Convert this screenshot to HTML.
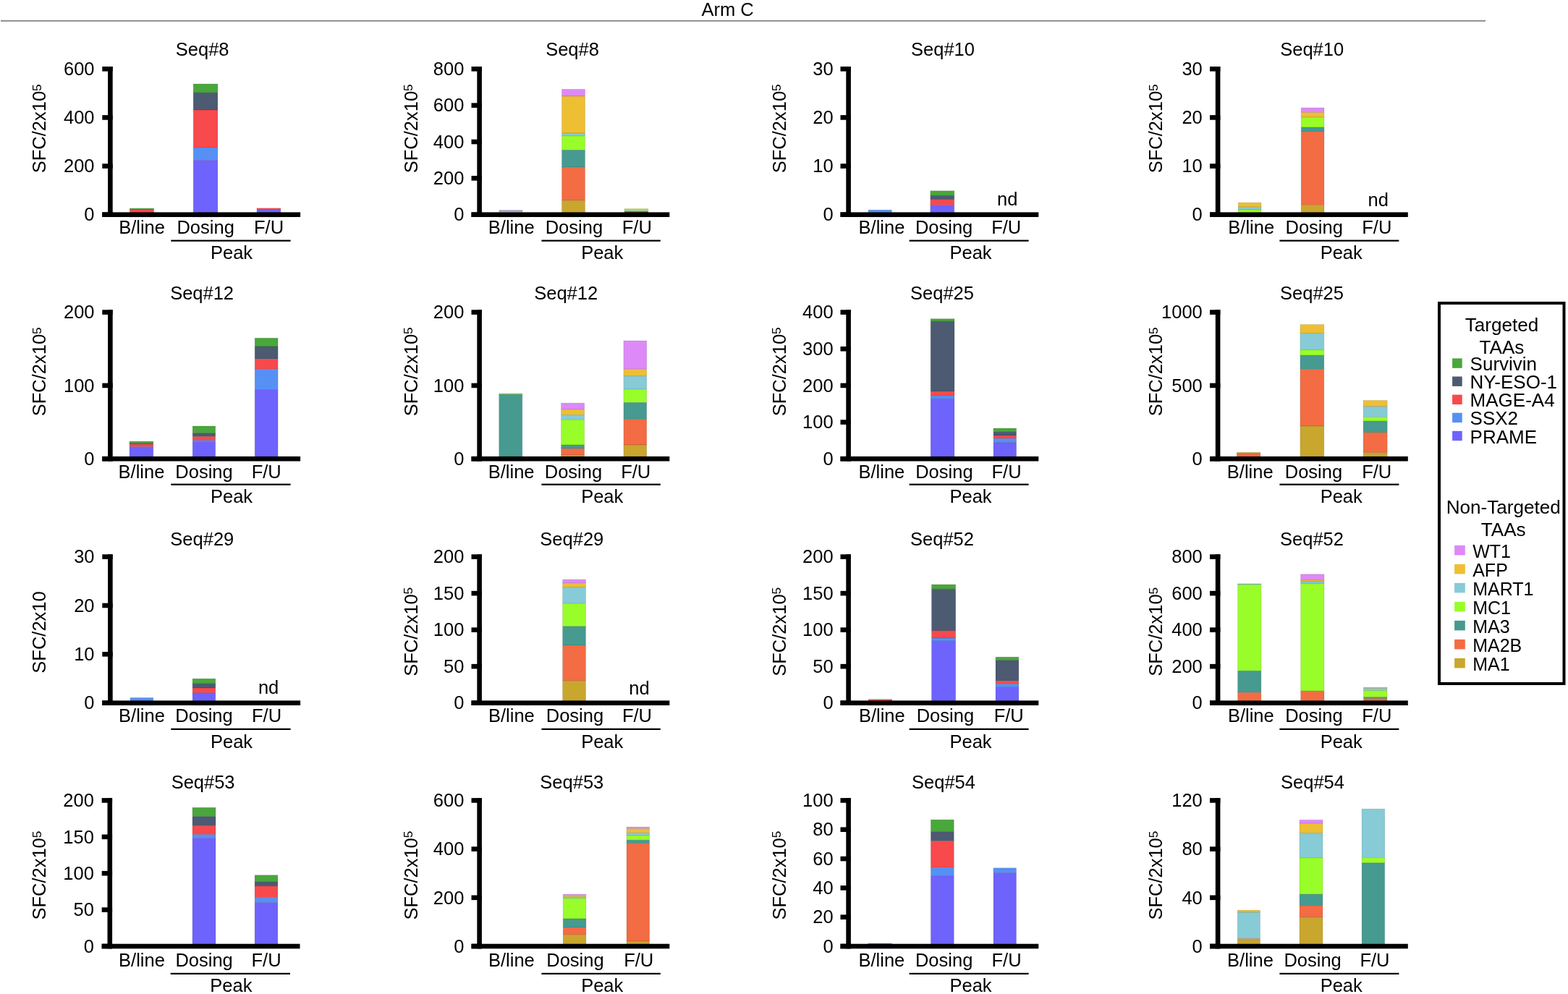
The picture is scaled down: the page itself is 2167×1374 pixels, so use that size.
<!DOCTYPE html>
<html><head><meta charset="utf-8"><title>Arm C</title><style>
html,body{margin:0;padding:0;background:#fff;}
body{width:2167px;height:1374px;overflow:hidden;}
svg{display:block;}
.b{stroke:rgba(0,0,0,0.14);stroke-width:0.8px;}
text{font-family:"Liberation Sans", Arial, Helvetica, sans-serif;fill:#000;}
</style></head><body>
<svg width="2167" height="1374" viewBox="0 0 2167 1374">
<rect x="0" y="0" width="2167" height="1374" fill="#fff"/>
<text x="1005.6" y="21.6" font-size="25.5" text-anchor="middle">Arm C</text>
<rect x="1" y="27.8" width="2052" height="2" fill="#8c8c8c"/>
<g>
<rect x="179.3" y="288" width="33.3" height="2" fill="#49a73b" class="b"/>
<rect x="179.3" y="290" width="33.3" height="10" fill="#f8494c" class="b"/>
<rect x="267.2" y="116" width="33.7" height="12.1" fill="#49a73b" class="b"/>
<rect x="267.2" y="128.1" width="33.7" height="23.9" fill="#4c5a72" class="b"/>
<rect x="267.2" y="152" width="33.7" height="52.1" fill="#f8494c" class="b"/>
<rect x="267.2" y="204.1" width="33.7" height="17.4" fill="#5790f4" class="b"/>
<rect x="267.2" y="221.5" width="33.7" height="78.5" fill="#6e63fc" class="b"/>
<rect x="355" y="287.8" width="32.9" height="2.3" fill="#f8494c" class="b"/>
<rect x="355" y="290.1" width="32.9" height="9.9" fill="#6e63fc" class="b"/>
<rect x="149.1" y="92" width="6.6" height="208" fill="#000"/>
<rect x="141.3" y="293.4" width="273.8" height="6.6" fill="#000"/>
<rect x="141.3" y="293.4" width="14.4" height="6.6" fill="#000"/>
<text x="130.5" y="305.4" font-size="25.5" text-anchor="end">0</text>
<rect x="141.3" y="226.27" width="14.4" height="6.6" fill="#000"/>
<text x="130.5" y="238.27" font-size="25.5" text-anchor="end">200</text>
<rect x="141.3" y="159.13" width="14.4" height="6.6" fill="#000"/>
<text x="130.5" y="171.13" font-size="25.5" text-anchor="end">400</text>
<rect x="141.3" y="92" width="14.4" height="6.6" fill="#000"/>
<text x="130.5" y="104" font-size="25.5" text-anchor="end">600</text>
<text x="279.7" y="77.2" font-size="25.5" text-anchor="middle">Seq#8</text>
<text transform="translate(63 239.3) rotate(-90)" font-size="25.5">SFC/2x10<tspan font-size="17.34" dy="-6.4">5</tspan></text>
<text x="196.05" y="323.4" font-size="25.5" text-anchor="middle">B/line</text>
<text x="284.15" y="323.4" font-size="25.5" text-anchor="middle">Dosing</text>
<text x="371.55" y="323.4" font-size="25.5" text-anchor="middle">F/U</text>
<rect x="236.3" y="331.6" width="165.3" height="2.2" fill="#000"/>
<text x="320" y="358" font-size="25.5" text-anchor="middle">Peak</text>
</g>
<g>
<rect x="689.8" y="290.5" width="32.1" height="1.5" fill="#b3a9d6" class="b"/>
<rect x="689.8" y="292" width="32.1" height="8" fill="#b5c7bd" class="b"/>
<rect x="776.5" y="123.4" width="32" height="9.6" fill="#de89f8" class="b"/>
<rect x="776.5" y="133" width="32" height="51" fill="#eebf32" class="b"/>
<rect x="776.5" y="184" width="32" height="3.9" fill="#86cbd6" class="b"/>
<rect x="776.5" y="187.9" width="32" height="19.6" fill="#99fd2a" class="b"/>
<rect x="776.5" y="207.5" width="32" height="23.6" fill="#469a90" class="b"/>
<rect x="776.5" y="231.1" width="32" height="46" fill="#f36c43" class="b"/>
<rect x="776.5" y="277.1" width="32" height="22.9" fill="#c9a62e" class="b"/>
<rect x="863" y="288.3" width="32.8" height="1.4" fill="#f3e79a" class="b"/>
<rect x="863" y="289.7" width="32.8" height="2.6" fill="#a3d68f" class="b"/>
<rect x="863" y="292.3" width="32.8" height="7.7" fill="#7a5a35" class="b"/>
<rect x="659.3" y="92" width="6.6" height="208" fill="#000"/>
<rect x="651.5" y="293.4" width="273.8" height="6.6" fill="#000"/>
<rect x="651.5" y="293.4" width="14.4" height="6.6" fill="#000"/>
<text x="641.4" y="305.4" font-size="25.5" text-anchor="end">0</text>
<rect x="651.5" y="243.05" width="14.4" height="6.6" fill="#000"/>
<text x="641.4" y="255.05" font-size="25.5" text-anchor="end">200</text>
<rect x="651.5" y="192.7" width="14.4" height="6.6" fill="#000"/>
<text x="641.4" y="204.7" font-size="25.5" text-anchor="end">400</text>
<rect x="651.5" y="142.35" width="14.4" height="6.6" fill="#000"/>
<text x="641.4" y="154.35" font-size="25.5" text-anchor="end">600</text>
<rect x="651.5" y="92" width="14.4" height="6.6" fill="#000"/>
<text x="641.4" y="104" font-size="25.5" text-anchor="end">800</text>
<text x="791" y="77.2" font-size="25.5" text-anchor="middle">Seq#8</text>
<text transform="translate(576.5 239.3) rotate(-90)" font-size="25.5">SFC/2x10<tspan font-size="17.34" dy="-6.4">5</tspan></text>
<text x="706.75" y="323.4" font-size="25.5" text-anchor="middle">B/line</text>
<text x="793.4" y="323.4" font-size="25.5" text-anchor="middle">Dosing</text>
<text x="880.3" y="323.4" font-size="25.5" text-anchor="middle">F/U</text>
<rect x="748.4" y="331.6" width="164.4" height="2.2" fill="#000"/>
<text x="832.2" y="358" font-size="25.5" text-anchor="middle">Peak</text>
</g>
<g>
<rect x="1200" y="290.2" width="32.4" height="9.8" fill="#5790f4" class="b"/>
<rect x="1285.8" y="263.8" width="33" height="6.4" fill="#49a73b" class="b"/>
<rect x="1285.8" y="270.2" width="33" height="5.6" fill="#4c5a72" class="b"/>
<rect x="1285.8" y="275.8" width="33" height="7.6" fill="#f8494c" class="b"/>
<rect x="1285.8" y="283.4" width="33" height="16.6" fill="#6e63fc" class="b"/>
<rect x="1169.3" y="92" width="6.6" height="208" fill="#000"/>
<rect x="1161.5" y="293.4" width="273.8" height="6.6" fill="#000"/>
<rect x="1161.5" y="293.4" width="14.4" height="6.6" fill="#000"/>
<text x="1151.6" y="305.4" font-size="25.5" text-anchor="end">0</text>
<rect x="1161.5" y="226.27" width="14.4" height="6.6" fill="#000"/>
<text x="1151.6" y="238.27" font-size="25.5" text-anchor="end">10</text>
<rect x="1161.5" y="159.13" width="14.4" height="6.6" fill="#000"/>
<text x="1151.6" y="171.13" font-size="25.5" text-anchor="end">20</text>
<rect x="1161.5" y="92" width="14.4" height="6.6" fill="#000"/>
<text x="1151.6" y="104" font-size="25.5" text-anchor="end">30</text>
<text x="1303" y="77.2" font-size="25.5" text-anchor="middle">Seq#10</text>
<text transform="translate(1085.8 239.3) rotate(-90)" font-size="25.5">SFC/2x10<tspan font-size="17.34" dy="-6.4">5</tspan></text>
<text x="1218.5" y="323.4" font-size="25.5" text-anchor="middle">B/line</text>
<text x="1304.6" y="323.4" font-size="25.5" text-anchor="middle">Dosing</text>
<text x="1390.7" y="323.4" font-size="25.5" text-anchor="middle">F/U</text>
<rect x="1256.6" y="331.6" width="165" height="2.2" fill="#000"/>
<text x="1341.5" y="358" font-size="25.5" text-anchor="middle">Peak</text>
<text x="1392.3" y="284.2" font-size="25.5" text-anchor="middle">nd</text>
</g>
<g>
<rect x="1711.2" y="280.1" width="31.8" height="6" fill="#eebf32" class="b"/>
<rect x="1711.2" y="286.1" width="31.8" height="3.9" fill="#86cbd6" class="b"/>
<rect x="1711.2" y="290" width="31.8" height="10" fill="#99fd2a" class="b"/>
<rect x="1798.2" y="149" width="31.8" height="6.4" fill="#de89f8" class="b"/>
<rect x="1798.2" y="155.4" width="31.8" height="6.6" fill="#eebf32" class="b"/>
<rect x="1798.2" y="162" width="31.8" height="14" fill="#99fd2a" class="b"/>
<rect x="1798.2" y="176" width="31.8" height="6.2" fill="#469a90" class="b"/>
<rect x="1798.2" y="182.2" width="31.8" height="101.2" fill="#f36c43" class="b"/>
<rect x="1798.2" y="283.4" width="31.8" height="16.6" fill="#c9a62e" class="b"/>
<rect x="1679.8" y="92" width="6.6" height="208" fill="#000"/>
<rect x="1672" y="293.4" width="273.8" height="6.6" fill="#000"/>
<rect x="1672" y="293.4" width="14.4" height="6.6" fill="#000"/>
<text x="1661.8" y="305.4" font-size="25.5" text-anchor="end">0</text>
<rect x="1672" y="226.27" width="14.4" height="6.6" fill="#000"/>
<text x="1661.8" y="238.27" font-size="25.5" text-anchor="end">10</text>
<rect x="1672" y="159.13" width="14.4" height="6.6" fill="#000"/>
<text x="1661.8" y="171.13" font-size="25.5" text-anchor="end">20</text>
<rect x="1672" y="92" width="14.4" height="6.6" fill="#000"/>
<text x="1661.8" y="104" font-size="25.5" text-anchor="end">30</text>
<text x="1813.2" y="77.2" font-size="25.5" text-anchor="middle">Seq#10</text>
<text transform="translate(1606 239.3) rotate(-90)" font-size="25.5">SFC/2x10<tspan font-size="17.34" dy="-6.4">5</tspan></text>
<text x="1729.2" y="323.4" font-size="25.5" text-anchor="middle">B/line</text>
<text x="1816.2" y="323.4" font-size="25.5" text-anchor="middle">Dosing</text>
<text x="1902.8" y="323.4" font-size="25.5" text-anchor="middle">F/U</text>
<rect x="1768.4" y="331.6" width="165" height="2.2" fill="#000"/>
<text x="1853.7" y="358" font-size="25.5" text-anchor="middle">Peak</text>
<text x="1904.7" y="284.6" font-size="25.5" text-anchor="middle">nd</text>
</g>
<g>
<rect x="179" y="610.1" width="32.8" height="2.4" fill="#49a73b" class="b"/>
<rect x="179" y="612.5" width="32.8" height="1.4" fill="#4c5a72" class="b"/>
<rect x="179" y="613.9" width="32.8" height="3.7" fill="#f8494c" class="b"/>
<rect x="179" y="617.6" width="32.8" height="19.4" fill="#6e63fc" class="b"/>
<rect x="266.2" y="589" width="31.5" height="9.7" fill="#49a73b" class="b"/>
<rect x="266.2" y="598.7" width="31.5" height="4.8" fill="#4c5a72" class="b"/>
<rect x="266.2" y="603.5" width="31.5" height="5.3" fill="#f8494c" class="b"/>
<rect x="266.2" y="608.8" width="31.5" height="1.6" fill="#5790f4" class="b"/>
<rect x="266.2" y="610.4" width="31.5" height="26.6" fill="#6e63fc" class="b"/>
<rect x="352.2" y="467.3" width="31.9" height="11.7" fill="#49a73b" class="b"/>
<rect x="352.2" y="479" width="31.9" height="17.3" fill="#4c5a72" class="b"/>
<rect x="352.2" y="496.3" width="31.9" height="13.9" fill="#f8494c" class="b"/>
<rect x="352.2" y="510.2" width="31.9" height="28.6" fill="#5790f4" class="b"/>
<rect x="352.2" y="538.8" width="31.9" height="98.2" fill="#6e63fc" class="b"/>
<rect x="149.1" y="428.3" width="6.6" height="209.2" fill="#000"/>
<rect x="141.3" y="630.9" width="273.8" height="6.6" fill="#000"/>
<rect x="141.3" y="630.9" width="14.4" height="6.6" fill="#000"/>
<text x="130.5" y="642.9" font-size="25.5" text-anchor="end">0</text>
<rect x="141.3" y="529.6" width="14.4" height="6.6" fill="#000"/>
<text x="130.5" y="541.6" font-size="25.5" text-anchor="end">100</text>
<rect x="141.3" y="428.3" width="14.4" height="6.6" fill="#000"/>
<text x="130.5" y="440.3" font-size="25.5" text-anchor="end">200</text>
<text x="279.1" y="414.2" font-size="25.5" text-anchor="middle">Seq#12</text>
<text transform="translate(63 575.3) rotate(-90)" font-size="25.5">SFC/2x10<tspan font-size="17.34" dy="-6.4">5</tspan></text>
<text x="195.5" y="660.8" font-size="25.5" text-anchor="middle">B/line</text>
<text x="282.05" y="660.8" font-size="25.5" text-anchor="middle">Dosing</text>
<text x="368.25" y="660.8" font-size="25.5" text-anchor="middle">F/U</text>
<rect x="236.3" y="668.6" width="165.3" height="2.2" fill="#000"/>
<text x="320" y="695" font-size="25.5" text-anchor="middle">Peak</text>
</g>
<g>
<rect x="689.7" y="543.8" width="32.1" height="1.3" fill="#99fd2a" class="b"/>
<rect x="689.7" y="545.1" width="32.1" height="91.9" fill="#469a90" class="b"/>
<rect x="775.5" y="557.2" width="32.1" height="8.7" fill="#de89f8" class="b"/>
<rect x="775.5" y="565.9" width="32.1" height="7.6" fill="#eebf32" class="b"/>
<rect x="775.5" y="573.5" width="32.1" height="6.8" fill="#86cbd6" class="b"/>
<rect x="775.5" y="580.3" width="32.1" height="34.7" fill="#99fd2a" class="b"/>
<rect x="775.5" y="615" width="32.1" height="5.1" fill="#469a90" class="b"/>
<rect x="775.5" y="620.1" width="32.1" height="9" fill="#f36c43" class="b"/>
<rect x="775.5" y="629.1" width="32.1" height="7.9" fill="#c9a62e" class="b"/>
<rect x="861.9" y="471" width="31.8" height="39.2" fill="#de89f8" class="b"/>
<rect x="861.9" y="510.2" width="31.8" height="9.6" fill="#eebf32" class="b"/>
<rect x="861.9" y="519.8" width="31.8" height="18.3" fill="#86cbd6" class="b"/>
<rect x="861.9" y="538.1" width="31.8" height="18.4" fill="#99fd2a" class="b"/>
<rect x="861.9" y="556.5" width="31.8" height="23.1" fill="#469a90" class="b"/>
<rect x="861.9" y="579.6" width="31.8" height="35.4" fill="#f36c43" class="b"/>
<rect x="861.9" y="615" width="31.8" height="22" fill="#c9a62e" class="b"/>
<rect x="659.3" y="428.3" width="6.6" height="209.2" fill="#000"/>
<rect x="651.5" y="630.9" width="273.8" height="6.6" fill="#000"/>
<rect x="651.5" y="630.9" width="14.4" height="6.6" fill="#000"/>
<text x="641.4" y="642.9" font-size="25.5" text-anchor="end">0</text>
<rect x="651.5" y="529.6" width="14.4" height="6.6" fill="#000"/>
<text x="641.4" y="541.6" font-size="25.5" text-anchor="end">100</text>
<rect x="651.5" y="428.3" width="14.4" height="6.6" fill="#000"/>
<text x="641.4" y="440.3" font-size="25.5" text-anchor="end">200</text>
<text x="782.2" y="414.2" font-size="25.5" text-anchor="middle">Seq#12</text>
<text transform="translate(576.5 575.3) rotate(-90)" font-size="25.5">SFC/2x10<tspan font-size="17.34" dy="-6.4">5</tspan></text>
<text x="706.65" y="660.8" font-size="25.5" text-anchor="middle">B/line</text>
<text x="792.45" y="660.8" font-size="25.5" text-anchor="middle">Dosing</text>
<text x="878.7" y="660.8" font-size="25.5" text-anchor="middle">F/U</text>
<rect x="748.4" y="668.6" width="164.4" height="2.2" fill="#000"/>
<text x="832.2" y="695" font-size="25.5" text-anchor="middle">Peak</text>
</g>
<g>
<rect x="1286.2" y="440.7" width="32.8" height="3.4" fill="#49a73b" class="b"/>
<rect x="1286.2" y="444.1" width="32.8" height="97" fill="#4c5a72" class="b"/>
<rect x="1286.2" y="541.1" width="32.8" height="5.8" fill="#f8494c" class="b"/>
<rect x="1286.2" y="546.9" width="32.8" height="4.3" fill="#5790f4" class="b"/>
<rect x="1286.2" y="551.2" width="32.8" height="85.8" fill="#6e63fc" class="b"/>
<rect x="1373" y="592" width="31.6" height="5.1" fill="#49a73b" class="b"/>
<rect x="1373" y="597.1" width="31.6" height="4.9" fill="#4c5a72" class="b"/>
<rect x="1373" y="602" width="31.6" height="4.1" fill="#f8494c" class="b"/>
<rect x="1373" y="606.1" width="31.6" height="5.8" fill="#5790f4" class="b"/>
<rect x="1373" y="611.9" width="31.6" height="25.1" fill="#6e63fc" class="b"/>
<rect x="1169.3" y="428.3" width="6.6" height="209.2" fill="#000"/>
<rect x="1161.5" y="630.9" width="273.8" height="6.6" fill="#000"/>
<rect x="1161.5" y="630.9" width="14.4" height="6.6" fill="#000"/>
<text x="1151.6" y="642.9" font-size="25.5" text-anchor="end">0</text>
<rect x="1161.5" y="580.25" width="14.4" height="6.6" fill="#000"/>
<text x="1151.6" y="592.25" font-size="25.5" text-anchor="end">100</text>
<rect x="1161.5" y="529.6" width="14.4" height="6.6" fill="#000"/>
<text x="1151.6" y="541.6" font-size="25.5" text-anchor="end">200</text>
<rect x="1161.5" y="478.95" width="14.4" height="6.6" fill="#000"/>
<text x="1151.6" y="490.95" font-size="25.5" text-anchor="end">300</text>
<rect x="1161.5" y="428.3" width="14.4" height="6.6" fill="#000"/>
<text x="1151.6" y="440.3" font-size="25.5" text-anchor="end">400</text>
<text x="1302" y="414.2" font-size="25.5" text-anchor="middle">Seq#25</text>
<text transform="translate(1085.8 575.3) rotate(-90)" font-size="25.5">SFC/2x10<tspan font-size="17.34" dy="-6.4">5</tspan></text>
<text x="1218.4" y="660.8" font-size="25.5" text-anchor="middle">B/line</text>
<text x="1304.9" y="660.8" font-size="25.5" text-anchor="middle">Dosing</text>
<text x="1391.1" y="660.8" font-size="25.5" text-anchor="middle">F/U</text>
<rect x="1256.6" y="668.6" width="165" height="2.2" fill="#000"/>
<text x="1341.5" y="695" font-size="25.5" text-anchor="middle">Peak</text>
</g>
<g>
<rect x="1709.3" y="625.4" width="32.6" height="1.4" fill="#c9a62e" class="b"/>
<rect x="1709.3" y="626.8" width="32.6" height="10.2" fill="#f36c43" class="b"/>
<rect x="1796.9" y="448.6" width="32.9" height="12" fill="#eebf32" class="b"/>
<rect x="1796.9" y="460.6" width="32.9" height="23.2" fill="#86cbd6" class="b"/>
<rect x="1796.9" y="483.8" width="32.9" height="7.3" fill="#99fd2a" class="b"/>
<rect x="1796.9" y="491.1" width="32.9" height="19.2" fill="#469a90" class="b"/>
<rect x="1796.9" y="510.3" width="32.9" height="78.7" fill="#f36c43" class="b"/>
<rect x="1796.9" y="589" width="32.9" height="48" fill="#c9a62e" class="b"/>
<rect x="1884.1" y="553.5" width="33.1" height="8.3" fill="#eebf32" class="b"/>
<rect x="1884.1" y="561.8" width="33.1" height="14.6" fill="#86cbd6" class="b"/>
<rect x="1884.1" y="576.4" width="33.1" height="5.7" fill="#99fd2a" class="b"/>
<rect x="1884.1" y="582.1" width="33.1" height="15.7" fill="#469a90" class="b"/>
<rect x="1884.1" y="597.8" width="33.1" height="27.9" fill="#f36c43" class="b"/>
<rect x="1884.1" y="625.7" width="33.1" height="11.3" fill="#c9a62e" class="b"/>
<rect x="1679.8" y="428.3" width="6.6" height="209.2" fill="#000"/>
<rect x="1672" y="630.9" width="273.8" height="6.6" fill="#000"/>
<rect x="1672" y="630.9" width="14.4" height="6.6" fill="#000"/>
<text x="1661.8" y="642.9" font-size="25.5" text-anchor="end">0</text>
<rect x="1672" y="529.6" width="14.4" height="6.6" fill="#000"/>
<text x="1661.8" y="541.6" font-size="25.5" text-anchor="end">500</text>
<rect x="1672" y="428.3" width="14.4" height="6.6" fill="#000"/>
<text x="1661.8" y="440.3" font-size="25.5" text-anchor="end">1000</text>
<text x="1813" y="414.2" font-size="25.5" text-anchor="middle">Seq#25</text>
<text transform="translate(1606 575.3) rotate(-90)" font-size="25.5">SFC/2x10<tspan font-size="17.34" dy="-6.4">5</tspan></text>
<text x="1727.7" y="660.8" font-size="25.5" text-anchor="middle">B/line</text>
<text x="1815.45" y="660.8" font-size="25.5" text-anchor="middle">Dosing</text>
<text x="1902.75" y="660.8" font-size="25.5" text-anchor="middle">F/U</text>
<rect x="1768.4" y="668.6" width="165" height="2.2" fill="#000"/>
<text x="1853.7" y="695" font-size="25.5" text-anchor="middle">Peak</text>
</g>
<g>
<rect x="180" y="964.5" width="31.8" height="10.5" fill="#5790f4" class="b"/>
<rect x="266.1" y="938.2" width="31.7" height="6.4" fill="#49a73b" class="b"/>
<rect x="266.1" y="944.6" width="31.7" height="6.4" fill="#4c5a72" class="b"/>
<rect x="266.1" y="951" width="31.7" height="6.8" fill="#f8494c" class="b"/>
<rect x="266.1" y="957.8" width="31.7" height="17.2" fill="#6e63fc" class="b"/>
<rect x="149.1" y="766.3" width="6.6" height="208.7" fill="#000"/>
<rect x="141.3" y="968.4" width="273.8" height="6.6" fill="#000"/>
<rect x="141.3" y="968.4" width="14.4" height="6.6" fill="#000"/>
<text x="130.5" y="980.4" font-size="25.5" text-anchor="end">0</text>
<rect x="141.3" y="901.03" width="14.4" height="6.6" fill="#000"/>
<text x="130.5" y="913.03" font-size="25.5" text-anchor="end">10</text>
<rect x="141.3" y="833.67" width="14.4" height="6.6" fill="#000"/>
<text x="130.5" y="845.67" font-size="25.5" text-anchor="end">20</text>
<rect x="141.3" y="766.3" width="14.4" height="6.6" fill="#000"/>
<text x="130.5" y="778.3" font-size="25.5" text-anchor="end">30</text>
<text x="279.3" y="753.7" font-size="25.5" text-anchor="middle">Seq#29</text>
<text transform="translate(63 930.7) rotate(-90)" font-size="25.5">SFC/2x10</text>
<text x="196" y="998.2" font-size="25.5" text-anchor="middle">B/line</text>
<text x="282.05" y="998.2" font-size="25.5" text-anchor="middle">Dosing</text>
<text x="368.6" y="998.2" font-size="25.5" text-anchor="middle">F/U</text>
<rect x="236.3" y="1006.8" width="165.3" height="2.2" fill="#000"/>
<text x="320" y="1033.8" font-size="25.5" text-anchor="middle">Peak</text>
<text x="371.1" y="959.4" font-size="25.5" text-anchor="middle">nd</text>
</g>
<g>
<rect x="777.6" y="801.1" width="31.9" height="4.8" fill="#de89f8" class="b"/>
<rect x="777.6" y="805.9" width="31.9" height="5.8" fill="#eebf32" class="b"/>
<rect x="777.6" y="811.7" width="31.9" height="22.5" fill="#86cbd6" class="b"/>
<rect x="777.6" y="834.2" width="31.9" height="31.7" fill="#99fd2a" class="b"/>
<rect x="777.6" y="865.9" width="31.9" height="26.2" fill="#469a90" class="b"/>
<rect x="777.6" y="892.1" width="31.9" height="48.8" fill="#f36c43" class="b"/>
<rect x="777.6" y="940.9" width="31.9" height="34.1" fill="#c9a62e" class="b"/>
<rect x="659.3" y="766.3" width="6.6" height="208.7" fill="#000"/>
<rect x="651.5" y="968.4" width="273.8" height="6.6" fill="#000"/>
<rect x="651.5" y="968.4" width="14.4" height="6.6" fill="#000"/>
<text x="641.4" y="980.4" font-size="25.5" text-anchor="end">0</text>
<rect x="651.5" y="917.88" width="14.4" height="6.6" fill="#000"/>
<text x="641.4" y="929.88" font-size="25.5" text-anchor="end">50</text>
<rect x="651.5" y="867.35" width="14.4" height="6.6" fill="#000"/>
<text x="641.4" y="879.35" font-size="25.5" text-anchor="end">100</text>
<rect x="651.5" y="816.83" width="14.4" height="6.6" fill="#000"/>
<text x="641.4" y="828.83" font-size="25.5" text-anchor="end">150</text>
<rect x="651.5" y="766.3" width="14.4" height="6.6" fill="#000"/>
<text x="641.4" y="778.3" font-size="25.5" text-anchor="end">200</text>
<text x="790.3" y="753.7" font-size="25.5" text-anchor="middle">Seq#29</text>
<text transform="translate(576.5 934.8) rotate(-90)" font-size="25.5">SFC/2x10<tspan font-size="17.34" dy="-6.4">5</tspan></text>
<text x="706.9" y="998.2" font-size="25.5" text-anchor="middle">B/line</text>
<text x="794.45" y="998.2" font-size="25.5" text-anchor="middle">Dosing</text>
<text x="880.5" y="998.2" font-size="25.5" text-anchor="middle">F/U</text>
<rect x="748.4" y="1006.8" width="164.4" height="2.2" fill="#000"/>
<text x="832.2" y="1033.8" font-size="25.5" text-anchor="middle">Peak</text>
<text x="883.5" y="959.8" font-size="25.5" text-anchor="middle">nd</text>
</g>
<g>
<rect x="1200.1" y="966.7" width="32.8" height="8.3" fill="#f8494c" class="b"/>
<rect x="1287.5" y="808" width="33.2" height="6.2" fill="#49a73b" class="b"/>
<rect x="1287.5" y="814.2" width="33.2" height="57.7" fill="#4c5a72" class="b"/>
<rect x="1287.5" y="871.9" width="33.2" height="10.1" fill="#f8494c" class="b"/>
<rect x="1287.5" y="882" width="33.2" height="4.1" fill="#5790f4" class="b"/>
<rect x="1287.5" y="886.1" width="33.2" height="88.9" fill="#6e63fc" class="b"/>
<rect x="1376" y="908.2" width="31.9" height="4.6" fill="#49a73b" class="b"/>
<rect x="1376" y="912.8" width="31.9" height="28.6" fill="#4c5a72" class="b"/>
<rect x="1376" y="941.4" width="31.9" height="4.2" fill="#f8494c" class="b"/>
<rect x="1376" y="945.6" width="31.9" height="4.5" fill="#5790f4" class="b"/>
<rect x="1376" y="950.1" width="31.9" height="24.9" fill="#6e63fc" class="b"/>
<rect x="1169.3" y="766.3" width="6.6" height="208.7" fill="#000"/>
<rect x="1161.5" y="968.4" width="273.8" height="6.6" fill="#000"/>
<rect x="1161.5" y="968.4" width="14.4" height="6.6" fill="#000"/>
<text x="1151.6" y="980.4" font-size="25.5" text-anchor="end">0</text>
<rect x="1161.5" y="917.88" width="14.4" height="6.6" fill="#000"/>
<text x="1151.6" y="929.88" font-size="25.5" text-anchor="end">50</text>
<rect x="1161.5" y="867.35" width="14.4" height="6.6" fill="#000"/>
<text x="1151.6" y="879.35" font-size="25.5" text-anchor="end">100</text>
<rect x="1161.5" y="816.83" width="14.4" height="6.6" fill="#000"/>
<text x="1151.6" y="828.83" font-size="25.5" text-anchor="end">150</text>
<rect x="1161.5" y="766.3" width="14.4" height="6.6" fill="#000"/>
<text x="1151.6" y="778.3" font-size="25.5" text-anchor="end">200</text>
<text x="1302" y="753.7" font-size="25.5" text-anchor="middle">Seq#52</text>
<text transform="translate(1085.8 934.8) rotate(-90)" font-size="25.5">SFC/2x10<tspan font-size="17.34" dy="-6.4">5</tspan></text>
<text x="1218.8" y="998.2" font-size="25.5" text-anchor="middle">B/line</text>
<text x="1306.4" y="998.2" font-size="25.5" text-anchor="middle">Dosing</text>
<text x="1394.25" y="998.2" font-size="25.5" text-anchor="middle">F/U</text>
<rect x="1256.6" y="1006.8" width="165" height="2.2" fill="#000"/>
<text x="1341.5" y="1033.8" font-size="25.5" text-anchor="middle">Peak</text>
</g>
<g>
<rect x="1710.6" y="806.9" width="32.3" height="1.1" fill="#86cbd6" class="b"/>
<rect x="1710.6" y="808" width="32.3" height="119.3" fill="#99fd2a" class="b"/>
<rect x="1710.6" y="927.3" width="32.3" height="30" fill="#469a90" class="b"/>
<rect x="1710.6" y="957.3" width="32.3" height="17.7" fill="#f36c43" class="b"/>
<rect x="1797.6" y="793.8" width="32.4" height="8" fill="#de89f8" class="b"/>
<rect x="1797.6" y="801.8" width="32.4" height="2.2" fill="#eebf32" class="b"/>
<rect x="1797.6" y="804" width="32.4" height="2.9" fill="#86cbd6" class="b"/>
<rect x="1797.6" y="806.9" width="32.4" height="148.2" fill="#99fd2a" class="b"/>
<rect x="1797.6" y="955.1" width="32.4" height="19.9" fill="#f36c43" class="b"/>
<rect x="1884.5" y="950" width="32.5" height="1.5" fill="#eebf32" class="b"/>
<rect x="1884.5" y="951.5" width="32.5" height="3.2" fill="#86cbd6" class="b"/>
<rect x="1884.5" y="954.7" width="32.5" height="9" fill="#99fd2a" class="b"/>
<rect x="1884.5" y="963.7" width="32.5" height="1.9" fill="#469a90" class="b"/>
<rect x="1884.5" y="965.6" width="32.5" height="9.4" fill="#f36c43" class="b"/>
<rect x="1679.8" y="766.3" width="6.6" height="208.7" fill="#000"/>
<rect x="1672" y="968.4" width="273.8" height="6.6" fill="#000"/>
<rect x="1672" y="968.4" width="14.4" height="6.6" fill="#000"/>
<text x="1661.8" y="980.4" font-size="25.5" text-anchor="end">0</text>
<rect x="1672" y="917.88" width="14.4" height="6.6" fill="#000"/>
<text x="1661.8" y="929.88" font-size="25.5" text-anchor="end">200</text>
<rect x="1672" y="867.35" width="14.4" height="6.6" fill="#000"/>
<text x="1661.8" y="879.35" font-size="25.5" text-anchor="end">400</text>
<rect x="1672" y="816.83" width="14.4" height="6.6" fill="#000"/>
<text x="1661.8" y="828.83" font-size="25.5" text-anchor="end">600</text>
<rect x="1672" y="766.3" width="14.4" height="6.6" fill="#000"/>
<text x="1661.8" y="778.3" font-size="25.5" text-anchor="end">800</text>
<text x="1813" y="753.7" font-size="25.5" text-anchor="middle">Seq#52</text>
<text transform="translate(1606 934.8) rotate(-90)" font-size="25.5">SFC/2x10<tspan font-size="17.34" dy="-6.4">5</tspan></text>
<text x="1728.85" y="998.2" font-size="25.5" text-anchor="middle">B/line</text>
<text x="1815.9" y="998.2" font-size="25.5" text-anchor="middle">Dosing</text>
<text x="1902.85" y="998.2" font-size="25.5" text-anchor="middle">F/U</text>
<rect x="1768.4" y="1006.8" width="165" height="2.2" fill="#000"/>
<text x="1853.7" y="1033.8" font-size="25.5" text-anchor="middle">Peak</text>
</g>
<g>
<rect x="266" y="1116.3" width="32" height="12.4" fill="#49a73b" class="b"/>
<rect x="266" y="1128.7" width="32" height="12.9" fill="#4c5a72" class="b"/>
<rect x="266" y="1141.6" width="32" height="12" fill="#f8494c" class="b"/>
<rect x="266" y="1153.6" width="32" height="4.9" fill="#5790f4" class="b"/>
<rect x="266" y="1158.5" width="32" height="152.5" fill="#6e63fc" class="b"/>
<rect x="352.1" y="1209.7" width="31.8" height="8.9" fill="#49a73b" class="b"/>
<rect x="352.1" y="1218.6" width="31.8" height="6.3" fill="#4c5a72" class="b"/>
<rect x="352.1" y="1224.9" width="31.8" height="15.7" fill="#f8494c" class="b"/>
<rect x="352.1" y="1240.6" width="31.8" height="7" fill="#5790f4" class="b"/>
<rect x="352.1" y="1247.6" width="31.8" height="63.4" fill="#6e63fc" class="b"/>
<rect x="148.5" y="1103.1" width="6.6" height="208.2" fill="#000"/>
<rect x="140.7" y="1304.7" width="273.8" height="6.6" fill="#000"/>
<rect x="140.7" y="1304.7" width="14.4" height="6.6" fill="#000"/>
<text x="129.9" y="1316.7" font-size="25.5" text-anchor="end">0</text>
<rect x="140.7" y="1254.3" width="14.4" height="6.6" fill="#000"/>
<text x="129.9" y="1266.3" font-size="25.5" text-anchor="end">50</text>
<rect x="140.7" y="1203.9" width="14.4" height="6.6" fill="#000"/>
<text x="129.9" y="1215.9" font-size="25.5" text-anchor="end">100</text>
<rect x="140.7" y="1153.5" width="14.4" height="6.6" fill="#000"/>
<text x="129.9" y="1165.5" font-size="25.5" text-anchor="end">150</text>
<rect x="140.7" y="1103.1" width="14.4" height="6.6" fill="#000"/>
<text x="129.9" y="1115.1" font-size="25.5" text-anchor="end">200</text>
<text x="280.6" y="1090.1" font-size="25.5" text-anchor="middle">Seq#53</text>
<text transform="translate(63 1271.6) rotate(-90)" font-size="25.5">SFC/2x10<tspan font-size="17.34" dy="-6.4">5</tspan></text>
<text x="196" y="1335.8" font-size="25.5" text-anchor="middle">B/line</text>
<text x="282.1" y="1335.8" font-size="25.5" text-anchor="middle">Dosing</text>
<text x="368.1" y="1335.8" font-size="25.5" text-anchor="middle">F/U</text>
<rect x="235.7" y="1344.8" width="165.3" height="2.2" fill="#000"/>
<text x="319.4" y="1371.2" font-size="25.5" text-anchor="middle">Peak</text>
</g>
<g>
<rect x="778.2" y="1236.1" width="31.7" height="1.3" fill="#de89f8" class="b"/>
<rect x="778.2" y="1237.4" width="31.7" height="2.3" fill="#eebf32" class="b"/>
<rect x="778.2" y="1239.7" width="31.7" height="2.1" fill="#86cbd6" class="b"/>
<rect x="778.2" y="1241.8" width="31.7" height="28.2" fill="#99fd2a" class="b"/>
<rect x="778.2" y="1270" width="31.7" height="12.1" fill="#469a90" class="b"/>
<rect x="778.2" y="1282.1" width="31.7" height="10.1" fill="#f36c43" class="b"/>
<rect x="778.2" y="1292.2" width="31.7" height="18.8" fill="#c9a62e" class="b"/>
<rect x="866" y="1143.1" width="31.6" height="2.4" fill="#de89f8" class="b"/>
<rect x="866" y="1145.5" width="31.6" height="5.8" fill="#eebf32" class="b"/>
<rect x="866" y="1151.3" width="31.6" height="3.6" fill="#86cbd6" class="b"/>
<rect x="866" y="1154.9" width="31.6" height="6.3" fill="#99fd2a" class="b"/>
<rect x="866" y="1161.2" width="31.6" height="4.5" fill="#469a90" class="b"/>
<rect x="866" y="1165.7" width="31.6" height="135.3" fill="#f36c43" class="b"/>
<rect x="866" y="1301" width="31.6" height="10" fill="#c9a62e" class="b"/>
<rect x="659.3" y="1103.1" width="6.6" height="208.2" fill="#000"/>
<rect x="651.5" y="1304.7" width="273.8" height="6.6" fill="#000"/>
<rect x="651.5" y="1304.7" width="14.4" height="6.6" fill="#000"/>
<text x="641.4" y="1316.7" font-size="25.5" text-anchor="end">0</text>
<rect x="651.5" y="1237.5" width="14.4" height="6.6" fill="#000"/>
<text x="641.4" y="1249.5" font-size="25.5" text-anchor="end">200</text>
<rect x="651.5" y="1170.3" width="14.4" height="6.6" fill="#000"/>
<text x="641.4" y="1182.3" font-size="25.5" text-anchor="end">400</text>
<rect x="651.5" y="1103.1" width="14.4" height="6.6" fill="#000"/>
<text x="641.4" y="1115.1" font-size="25.5" text-anchor="end">600</text>
<text x="790.3" y="1090.1" font-size="25.5" text-anchor="middle">Seq#53</text>
<text transform="translate(576.5 1271.6) rotate(-90)" font-size="25.5">SFC/2x10<tspan font-size="17.34" dy="-6.4">5</tspan></text>
<text x="706.9" y="1335.8" font-size="25.5" text-anchor="middle">B/line</text>
<text x="794.95" y="1335.8" font-size="25.5" text-anchor="middle">Dosing</text>
<text x="882.7" y="1335.8" font-size="25.5" text-anchor="middle">F/U</text>
<rect x="748.4" y="1344.8" width="164.4" height="2.2" fill="#000"/>
<text x="832.2" y="1371.2" font-size="25.5" text-anchor="middle">Peak</text>
</g>
<g>
<rect x="1199.8" y="1304" width="32.6" height="7" fill="#6e63fc" class="b"/>
<rect x="1286.4" y="1133.1" width="31.9" height="16.4" fill="#49a73b" class="b"/>
<rect x="1286.4" y="1149.5" width="31.9" height="13.1" fill="#4c5a72" class="b"/>
<rect x="1286.4" y="1162.6" width="31.9" height="36.6" fill="#f8494c" class="b"/>
<rect x="1286.4" y="1199.2" width="31.9" height="11.6" fill="#5790f4" class="b"/>
<rect x="1286.4" y="1210.8" width="31.9" height="100.2" fill="#6e63fc" class="b"/>
<rect x="1373" y="1199.8" width="31.5" height="6.8" fill="#5790f4" class="b"/>
<rect x="1373" y="1206.6" width="31.5" height="104.4" fill="#6e63fc" class="b"/>
<rect x="1169.3" y="1103.1" width="6.6" height="208.2" fill="#000"/>
<rect x="1161.5" y="1304.7" width="273.8" height="6.6" fill="#000"/>
<rect x="1161.5" y="1304.7" width="14.4" height="6.6" fill="#000"/>
<text x="1151.6" y="1316.7" font-size="25.5" text-anchor="end">0</text>
<rect x="1161.5" y="1264.38" width="14.4" height="6.6" fill="#000"/>
<text x="1151.6" y="1276.38" font-size="25.5" text-anchor="end">20</text>
<rect x="1161.5" y="1224.06" width="14.4" height="6.6" fill="#000"/>
<text x="1151.6" y="1236.06" font-size="25.5" text-anchor="end">40</text>
<rect x="1161.5" y="1183.74" width="14.4" height="6.6" fill="#000"/>
<text x="1151.6" y="1195.74" font-size="25.5" text-anchor="end">60</text>
<rect x="1161.5" y="1143.42" width="14.4" height="6.6" fill="#000"/>
<text x="1151.6" y="1155.42" font-size="25.5" text-anchor="end">80</text>
<rect x="1161.5" y="1103.1" width="14.4" height="6.6" fill="#000"/>
<text x="1151.6" y="1115.1" font-size="25.5" text-anchor="end">100</text>
<text x="1304" y="1090.1" font-size="25.5" text-anchor="middle">Seq#54</text>
<text transform="translate(1085.8 1271.6) rotate(-90)" font-size="25.5">SFC/2x10<tspan font-size="17.34" dy="-6.4">5</tspan></text>
<text x="1218.4" y="1335.8" font-size="25.5" text-anchor="middle">B/line</text>
<text x="1304.65" y="1335.8" font-size="25.5" text-anchor="middle">Dosing</text>
<text x="1391.05" y="1335.8" font-size="25.5" text-anchor="middle">F/U</text>
<rect x="1256.6" y="1344.8" width="165" height="2.2" fill="#000"/>
<text x="1341.5" y="1371.2" font-size="25.5" text-anchor="middle">Peak</text>
</g>
<g>
<rect x="1710.3" y="1258.2" width="31.2" height="2.8" fill="#eebf32" class="b"/>
<rect x="1710.3" y="1261" width="31.2" height="36.3" fill="#86cbd6" class="b"/>
<rect x="1710.3" y="1297.3" width="31.2" height="1.9" fill="#d9a070" class="b"/>
<rect x="1710.3" y="1299.2" width="31.2" height="11.8" fill="#c9a62e" class="b"/>
<rect x="1796" y="1133.4" width="32" height="4.7" fill="#de89f8" class="b"/>
<rect x="1796" y="1138.1" width="32" height="13.4" fill="#eebf32" class="b"/>
<rect x="1796" y="1151.5" width="32" height="34.3" fill="#86cbd6" class="b"/>
<rect x="1796" y="1185.8" width="32" height="50.3" fill="#99fd2a" class="b"/>
<rect x="1796" y="1236.1" width="32" height="15.7" fill="#469a90" class="b"/>
<rect x="1796" y="1251.8" width="32" height="16.1" fill="#f36c43" class="b"/>
<rect x="1796" y="1267.9" width="32" height="43.1" fill="#c9a62e" class="b"/>
<rect x="1882.1" y="1118.2" width="31.6" height="67.2" fill="#86cbd6" class="b"/>
<rect x="1882.1" y="1185.4" width="31.6" height="7.4" fill="#99fd2a" class="b"/>
<rect x="1882.1" y="1192.8" width="31.6" height="118.2" fill="#469a90" class="b"/>
<rect x="1679.8" y="1103.1" width="6.6" height="208.2" fill="#000"/>
<rect x="1672" y="1304.7" width="273.8" height="6.6" fill="#000"/>
<rect x="1672" y="1304.7" width="14.4" height="6.6" fill="#000"/>
<text x="1661.8" y="1316.7" font-size="25.5" text-anchor="end">0</text>
<rect x="1672" y="1237.5" width="14.4" height="6.6" fill="#000"/>
<text x="1661.8" y="1249.5" font-size="25.5" text-anchor="end">40</text>
<rect x="1672" y="1170.3" width="14.4" height="6.6" fill="#000"/>
<text x="1661.8" y="1182.3" font-size="25.5" text-anchor="end">80</text>
<rect x="1672" y="1103.1" width="14.4" height="6.6" fill="#000"/>
<text x="1661.8" y="1115.1" font-size="25.5" text-anchor="end">120</text>
<text x="1814" y="1090.1" font-size="25.5" text-anchor="middle">Seq#54</text>
<text transform="translate(1606 1271.6) rotate(-90)" font-size="25.5">SFC/2x10<tspan font-size="17.34" dy="-6.4">5</tspan></text>
<text x="1728" y="1335.8" font-size="25.5" text-anchor="middle">B/line</text>
<text x="1814.1" y="1335.8" font-size="25.5" text-anchor="middle">Dosing</text>
<text x="1900" y="1335.8" font-size="25.5" text-anchor="middle">F/U</text>
<rect x="1768.4" y="1344.8" width="165" height="2.2" fill="#000"/>
<text x="1853.7" y="1371.2" font-size="25.5" text-anchor="middle">Peak</text>
</g>
<rect x="1989" y="419" width="172.5" height="526" fill="none" stroke="#000" stroke-width="4"/>
<text x="2075.5" y="457.7" font-size="26.1" text-anchor="middle">Targeted</text>
<text x="2075.5" y="488.7" font-size="26.1" text-anchor="middle">TAAs</text>
<rect x="2007.1" y="495.4" width="13.6" height="13.4" fill="#49a73b"/>
<text x="2031.6" y="512.1" font-size="26">Survivin</text>
<rect x="2007.1" y="520.5" width="13.6" height="13.4" fill="#4c5a72"/>
<text x="2031.6" y="537.2" font-size="26">NY-ESO-1</text>
<rect x="2007.1" y="545.6" width="13.6" height="13.4" fill="#f8494c"/>
<text x="2031.6" y="562.3" font-size="26">MAGE-A4</text>
<rect x="2007.1" y="570.7" width="13.6" height="13.4" fill="#5790f4"/>
<text x="2031.6" y="587.4" font-size="26">SSX2</text>
<rect x="2007.1" y="595.8" width="13.6" height="13.4" fill="#6e63fc"/>
<text x="2031.6" y="612.5" font-size="26">PRAME</text>
<text x="2077.7" y="710.2" font-size="26.1" text-anchor="middle">Non-Targeted</text>
<text x="2077.7" y="740.8" font-size="26.1" text-anchor="middle">TAAs</text>
<rect x="2010.1" y="753.9" width="14.7" height="13.5" fill="#de89f8"/>
<text x="2035.2" y="771.4" font-size="25">WT1</text>
<rect x="2010.1" y="779.9" width="14.7" height="13.5" fill="#eebf32"/>
<text x="2035.2" y="797.4" font-size="25">AFP</text>
<rect x="2010.1" y="805.9" width="14.7" height="13.5" fill="#86cbd6"/>
<text x="2035.2" y="823.4" font-size="25">MART1</text>
<rect x="2010.1" y="831.9" width="14.7" height="13.5" fill="#99fd2a"/>
<text x="2035.2" y="849.4" font-size="25">MC1</text>
<rect x="2010.1" y="857.9" width="14.7" height="13.5" fill="#469a90"/>
<text x="2035.2" y="875.4" font-size="25">MA3</text>
<rect x="2010.1" y="883.9" width="14.7" height="13.5" fill="#f36c43"/>
<text x="2035.2" y="901.4" font-size="25">MA2B</text>
<rect x="2010.1" y="909.9" width="14.7" height="13.5" fill="#c9a62e"/>
<text x="2035.2" y="927.4" font-size="25">MA1</text>
</svg></body></html>
